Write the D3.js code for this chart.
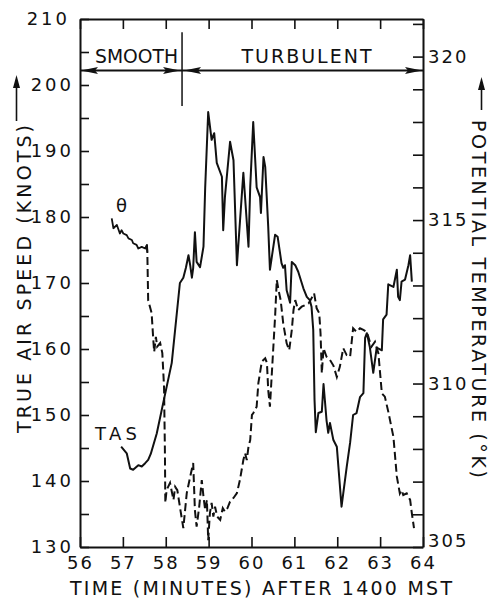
<!DOCTYPE html>
<html>
<head>
<meta charset="utf-8">
<script src="https://cdn.jsdelivr.net/npm/d3@7/dist/d3.min.js"></script>
<style>
  html, body { margin: 0; padding: 0; background: #fff; }
  svg { display: block; }
  text { font-family: "DejaVu Sans", sans-serif; fill: #111; }
</style>
</head>
<body>
<svg id="chart" width="495" height="600"></svg>
<script>
// ---------- data ----------
const xTicks = [56, 57, 58, 59, 60, 61, 62, 63, 64];
const leftTicks = [130, 140, 150, 160, 170, 180, 190, 200, 210];
const rightTicks = [305, 310, 315, 320];

// True air speed (knots) vs time (minutes after 1400 MST)
const tasTime = [56.96, 57.09, 57.17, 57.24, 57.36, 57.44, 57.52, 57.59, 57.65, 57.79, 57.94, 58.14, 58.33, 58.41, 58.47, 58.53, 58.57, 58.61, 58.64, 58.68, 58.72, 58.80, 58.88, 58.92, 58.99, 59.07, 59.13, 59.19, 59.31, 59.34, 59.38, 59.50, 59.58, 59.66, 59.81, 59.93, 59.97, 60.04, 60.12, 60.20, 60.22, 60.28, 60.32, 60.39, 60.43, 60.55, 60.61, 60.70, 60.74, 60.78, 60.82, 60.90, 60.94, 61.02, 61.09, 61.21, 61.29, 61.36, 61.40, 61.44, 61.47, 61.50, 61.56, 61.64, 61.68, 61.75, 61.79, 61.83, 61.91, 61.99, 62.10, 62.22, 62.30, 62.37, 62.45, 62.53, 62.61, 62.65, 62.69, 62.76, 62.84, 62.92, 63.04, 63.07, 63.15, 63.19, 63.31, 63.39, 63.42, 63.46, 63.50, 63.58, 63.66, 63.70, 63.74];
const tasKnots = [145.2, 144.2, 141.9, 141.7, 142.4, 142.2, 142.7, 143.2, 144.1, 147.2, 151.8, 157.9, 170.0, 170.8, 172.3, 174.2, 172.7, 170.8, 172.3, 177.7, 173.2, 172.4, 175.5, 184.5, 195.9, 191.7, 192.7, 188.2, 186.1, 178.0, 183.0, 191.4, 188.6, 172.7, 186.7, 175.5, 184.5, 194.4, 184.5, 183.0, 180.6, 189.1, 187.6, 178.5, 172.0, 177.3, 177.0, 173.0, 172.3, 172.7, 168.9, 167.0, 173.2, 172.7, 171.7, 169.2, 167.9, 167.4, 166.4, 162.9, 152.3, 147.4, 150.3, 150.5, 154.7, 149.2, 147.3, 148.8, 146.2, 145.2, 136.1, 142.1, 145.8, 150.0, 150.3, 152.7, 153.3, 161.7, 162.4, 160.3, 156.4, 160.2, 159.8, 164.5, 165.2, 169.8, 169.4, 172.0, 167.9, 167.4, 170.2, 170.5, 172.7, 174.2, 170.2];

// Potential temperature (K) vs time
const thetaTime = [56.74, 56.78, 56.86, 56.93, 56.97, 57.01, 57.09, 57.13, 57.21, 57.24, 57.32, 57.36, 57.44, 57.52, 57.56, 57.57, 57.59, 57.67, 57.71, 57.73, 57.77, 57.80, 57.87, 57.92, 57.96, 57.98, 57.99, 58.02, 58.10, 58.18, 58.22, 58.27, 58.33, 58.41, 58.49, 58.57, 58.64, 58.68, 58.72, 58.78, 58.84, 58.88, 58.92, 58.96, 58.99, 59.03, 59.07, 59.11, 59.15, 59.20, 59.27, 59.33, 59.38, 59.44, 59.50, 59.58, 59.66, 59.73, 59.81, 59.85, 59.89, 59.93, 59.97, 60.01, 60.04, 60.12, 60.16, 60.24, 60.32, 60.36, 60.39, 60.43, 60.47, 60.55, 60.59, 60.63, 60.68, 60.74, 60.82, 60.88, 60.94, 60.98, 61.02, 61.09, 61.17, 61.25, 61.33, 61.40, 61.46, 61.52, 61.58, 61.61, 61.64, 61.68, 61.75, 61.83, 61.91, 61.99, 62.06, 62.14, 62.22, 62.30, 62.37, 62.45, 62.53, 62.61, 62.69, 62.76, 62.80, 62.88, 62.96, 63.04, 63.11, 63.19, 63.31, 63.39, 63.46, 63.50, 63.54, 63.62, 63.70, 63.74, 63.79];
const thetaK = [315.05, 314.75, 314.85, 314.59, 314.69, 314.59, 314.54, 314.44, 314.39, 314.29, 314.24, 314.13, 314.18, 314.13, 314.24, 314.03, 312.55, 312.16, 311.33, 310.97, 311.43, 311.13, 311.24, 310.93, 309.90, 307.97, 306.35, 306.74, 306.96, 306.44, 306.84, 306.74, 306.23, 305.58, 306.65, 307.15, 307.57, 306.13, 305.62, 306.23, 307.05, 306.54, 306.13, 306.44, 305.21, 306.04, 306.35, 305.93, 306.23, 305.93, 305.83, 306.19, 306.08, 306.19, 306.39, 306.50, 306.65, 307.05, 307.66, 307.87, 307.66, 308.07, 308.27, 309.04, 309.09, 309.29, 310.01, 310.67, 310.77, 310.63, 309.80, 309.29, 310.21, 312.04, 313.17, 312.86, 312.55, 311.84, 311.23, 311.02, 311.64, 312.25, 312.55, 312.25, 312.35, 312.40, 312.45, 312.61, 312.76, 312.30, 312.15, 311.54, 310.31, 311.08, 310.82, 310.72, 310.55, 310.20, 310.51, 311.08, 310.87, 310.82, 311.69, 311.58, 311.69, 311.64, 311.58, 311.28, 311.13, 311.28, 310.92, 309.70, 309.60, 309.14, 308.37, 307.15, 306.64, 306.74, 306.59, 306.64, 306.44, 306.03, 305.58];

const smoothEnd = 58.38;     // minutes: boundary smooth / turbulent
const bandLevel = 202.2;     // knots level of the regime arrows

// ---------- layout ----------
const svg = d3.select("#chart");
const x = d3.scaleLinear().domain([56, 64]).range([80, 423]);
const yL = d3.scaleLinear().domain([130, 210]).range([547, 19]);
const yR = d3.scaleLinear().domain([305, 321.15]).range([547, 19]);

const tickFont = "18px";

// bottom axis
const gB = svg.append("g").attr("transform", `translate(0,${yL(130)})`)
  .call(d3.axisBottom(x).tickValues(xTicks).tickSizeInner(-10).tickSizeOuter(0).tickPadding(9).tickFormat(d3.format("d")));
// top axis
const gT = svg.append("g").attr("transform", `translate(0,${yL(210)})`)
  .call(d3.axisTop(x).tickValues(xTicks).tickSizeInner(-10).tickSizeOuter(0).tickFormat(""));
// left axis
const gL = svg.append("g").attr("transform", `translate(${x(56)},0)`)
  .call(d3.axisLeft(yL).tickValues(d3.range(130, 211, 5)).tickSizeInner(-9).tickSizeOuter(0).tickPadding(6)
    .tickFormat(d => leftTicks.includes(d) ? d : ""));
// right axis
const gR = svg.append("g").attr("transform", `translate(${x(64)},0)`)
  .call(d3.axisRight(yR).tickValues(d3.range(305, 322, 1)).tickSizeInner(-10).tickSizeOuter(0).tickPadding(5)
    .tickFormat(d => rightTicks.includes(d) ? d : ""));

[gB, gT, gL, gR].forEach(g => {
  g.select(".domain").attr("stroke", "#111").attr("stroke-width", 2);
  g.selectAll(".tick line").attr("stroke", "#111").attr("stroke-width", 1.6);
  g.selectAll(".tick text").attr("font-size", tickFont).attr("letter-spacing", "2px")
    .attr("font-family", "DejaVu Sans").attr("fill", "#111");
});
gL.selectAll(".tick text").attr("letter-spacing", "3px");
gR.selectAll(".tick text").attr("letter-spacing", "2px");
gR.selectAll(".tick").filter(d => d === 305).select("text").attr("dy", "-0.05em");
gL.selectAll(".tick").filter(d => d === 210).select("text").attr("dx", "-4");

// ---------- regime band ----------
const yBand = yL(bandLevel);
const band = svg.append("g");
band.append("line").attr("x1", x(56)).attr("x2", x(64)).attr("y1", yBand).attr("y2", yBand)
  .attr("stroke", "#111").attr("stroke-width", 1.8);
band.append("line").attr("x1", x(smoothEnd)).attr("x2", x(smoothEnd))
  .attr("y1", yL(208.0)).attr("y2", yL(196.8)).attr("stroke", "#111").attr("stroke-width", 1.5);
function arrowHead(tipX, tipY, dir, len, half) {
  const bx = tipX - dir * len;
  return `M${tipX},${tipY} L${bx},${tipY - half} L${bx + dir * 3},${tipY} L${bx},${tipY + half} Z`;
}
[[x(56) + 1, -1], [x(smoothEnd) - 2, 1], [x(smoothEnd) + 2, -1], [x(64) - 1, 1]].forEach(([tx, dir]) => {
  band.append("path").attr("d", arrowHead(tx, yBand, dir, 17, 3.5)).attr("fill", "#111");
});
band.append("text").attr("x", 136.5).attr("y", 63).attr("text-anchor", "middle")
  .attr("font-size", "19px").attr("textLength", 83).attr("lengthAdjust", "spacingAndGlyphs").text("SMOOTH");
band.append("text").attr("x", 306.5).attr("y", 63).attr("text-anchor", "middle")
  .attr("font-size", "19px").attr("textLength", 130).attr("lengthAdjust", "spacing").text("TURBULENT");

// ---------- series ----------
const tasData = tasTime.map((t, i) => ({ t, v: tasKnots[i] }));
const thetaData = thetaTime.map((t, i) => ({ t, v: thetaK[i] }));

const lineL = d3.line().x(d => x(d.t)).y(d => yL(d.v));
const lineR = d3.line().x(d => x(d.t)).y(d => yR(d.v));

svg.append("path").datum(tasData).attr("d", lineL)
  .attr("fill", "none").attr("stroke", "#111").attr("stroke-width", 2).attr("stroke-linejoin", "round");

const thetaSolid = thetaData.filter(d => d.t <= 57.57);
const thetaDashed = thetaData.filter(d => d.t >= 57.56);
svg.append("path").datum(thetaSolid).attr("d", lineR)
  .attr("fill", "none").attr("stroke", "#111").attr("stroke-width", 1.8).attr("stroke-linejoin", "round");
svg.append("path").datum(thetaDashed).attr("d", lineR)
  .attr("fill", "none").attr("stroke", "#111").attr("stroke-width", 2).attr("stroke-dasharray", "8,4");

// series labels
svg.append("text").attr("x", 121.5).attr("y", 212).attr("text-anchor", "middle")
  .attr("font-size", "18px").text("θ");
svg.append("text").attr("x", 95).attr("y", 439.5).attr("font-size", "18px")
  .attr("textLength", 42).attr("lengthAdjust", "spacing").text("TAS");

// ---------- axis titles ----------
svg.append("text").attr("x", 261).attr("y", 595).attr("text-anchor", "middle")
  .attr("font-size", "19px").attr("textLength", 382).attr("lengthAdjust", "spacing")
  .text("TIME (MINUTES) AFTER 1400 MST");

svg.append("text").attr("transform", "translate(31,279) rotate(-90)").attr("text-anchor", "middle")
  .attr("font-size", "19px").attr("textLength", 308).attr("lengthAdjust", "spacing")
  .text("TRUE AIR SPEED (KNOTS)");
svg.append("text").attr("transform", "translate(472,299) rotate(90)").attr("text-anchor", "middle")
  .attr("font-size", "19px").attr("textLength", 358).attr("lengthAdjust", "spacing")
  .text("POTENTIAL TEMPERATURE (°K)");

// title arrows
function vArrow(cx, yTop, yBottom) {
  svg.append("line").attr("x1", cx).attr("x2", cx).attr("y1", yTop + 8).attr("y2", yBottom)
    .attr("stroke", "#111").attr("stroke-width", 1.6);
  svg.append("path").attr("d", `M${cx},${yTop} L${cx - 3.5},${yTop + 13} L${cx + 3.5},${yTop + 13} Z`).attr("fill", "#111");
}
vArrow(16.5, 75, 121);
vArrow(481.5, 77, 110);
</script>
</body>
</html>
